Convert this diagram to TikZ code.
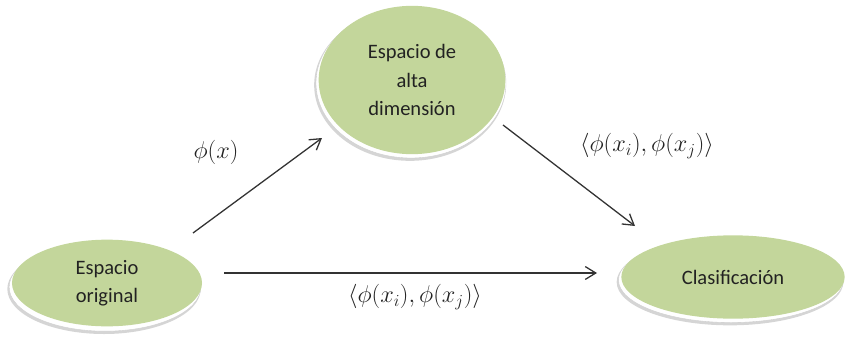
\documentclass[tikz,border=0pt]{standalone}
\usepackage{fontspec}
\setmainfont{Carlito}
\usetikzlibrary{arrows.meta,shapes.geometric}
\definecolor{ovalgreen}{HTML}{C3D69B}
\definecolor{arrowgray}{HTML}{333333}
\definecolor{textdark}{HTML}{222222}
\tikzset{
  oval/.style={ellipse, fill=ovalgreen, inner sep=0pt, align=center, text=textdark,
    font=\fontsize{17.5}{24}\selectfont},
  ovalshadow/.style={ellipse, fill=gray!55, inner sep=0pt, opacity=0.6},
  ovalrim/.style={ellipse, fill=white, draw=gray!40, line width=0.3pt, inner sep=0pt},
  conn/.style={draw=arrowgray, line width=1.1pt, -{Straight Barb[length=9pt,width=11pt,line width=1.1pt]}},
  lab/.style={font=\fontsize{19.5}{24}\selectfont, text=textdark}
}
\begin{document}
\begin{tikzpicture}[x=0.03cm,y=-0.03cm]
\useasboundingbox (0,0) rectangle (849,339);
% shadows and rims
\node[ovalshadow, minimum width=5.8cm, minimum height=2.7cm] at (104,289) {};
\node[ovalrim, minimum width=5.75cm, minimum height=2.65cm] at (105,287) {};
\node[ovalshadow, minimum width=5.75cm, minimum height=4.55cm] at (410,85) {};
\node[ovalrim, minimum width=5.7cm, minimum height=4.5cm] at (411,83) {};
\node[ovalshadow, minimum width=6.8cm, minimum height=2.6cm] at (730,282) {};
\node[ovalrim, minimum width=6.75cm, minimum height=2.55cm] at (731,280) {};
% main ovals
\node[oval, minimum width=5.7cm, minimum height=2.6cm] (orig) at (107,283) {Espacio\\original};
\node[oval, minimum width=5.6cm, minimum height=4.45cm] (high) at (412,80) {Espacio de\\alta\\dimensión};
\node[oval, minimum width=6.7cm, minimum height=2.5cm] (clas) at (733,277) {Clasificación};
% connector end points
\coordinate (a1s) at (193,233);
\coordinate (a1e) at (322,138);
\coordinate (a2s) at (503,125);
\coordinate (a2e) at (635,226);
\coordinate (a3s) at (224,273);
\coordinate (a3e) at (597,273);
\draw[conn] (a1s) -- (a1e);
\draw[conn] (a2s) -- (a2e);
\draw[conn] (a3s) -- (a3e);
% labels
\node[lab] (l1) at (216,152) {$\phi(x)$};
\node[lab] (l2) at (647,146) {$\langle\phi(x_i),\phi(x_j)\rangle$};
\node[lab] (l3) at (415,297) {$\langle\phi(x_i),\phi(x_j)\rangle$};
\end{tikzpicture}
\end{document}
